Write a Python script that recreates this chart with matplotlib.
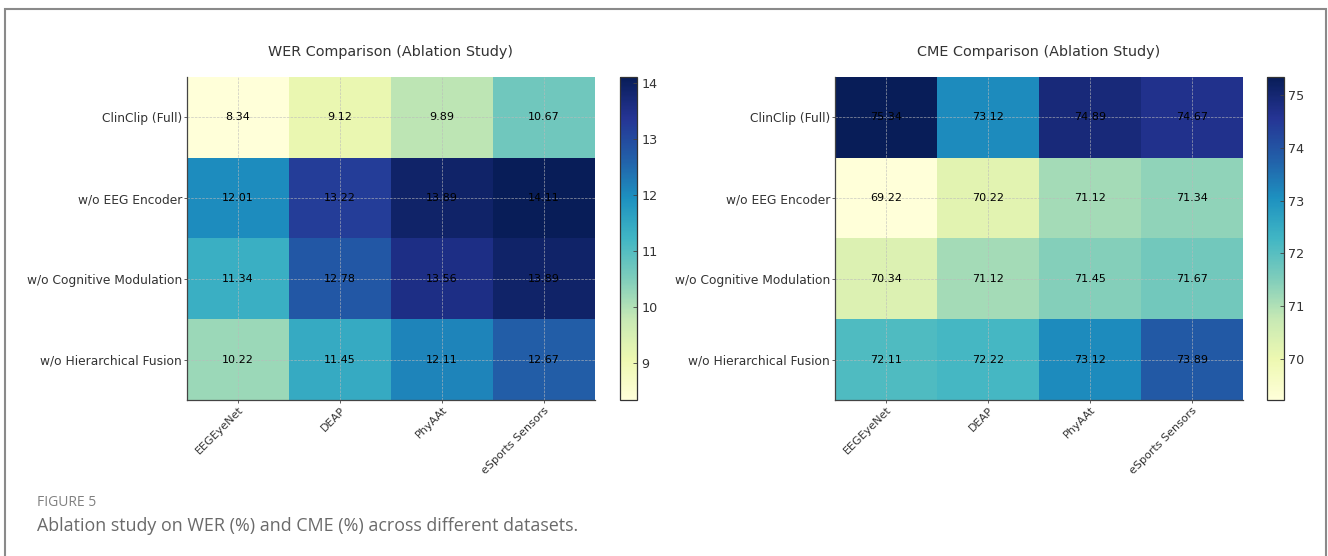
import matplotlib
matplotlib.use('Agg')
import matplotlib.pyplot as plt
import numpy as np
from matplotlib.patches import Rectangle

# data
variants = ["ClinClip (Full)", "w/o EEG Encoder", "w/o Cognitive Modulation", "w/o Hierarchical Fusion"]
datasets = ["EEGEyeNet", "DEAP", "PhyAAt", "eSports Sensors"]

wer = [
    [8.34, 9.12, 9.89, 10.67],
    [12.01, 13.22, 13.89, 14.11],
    [11.34, 12.78, 13.56, 13.89],
    [10.22, 11.45, 12.11, 12.67],
]
cme = [
    [75.34, 73.12, 74.89, 74.67],
    [69.22, 70.22, 71.12, 71.34],
    [70.34, 71.12, 71.45, 71.67],
    [72.11, 72.22, 73.12, 73.89],
]

W, H = 1328, 556
fig = plt.figure(figsize=(W / 100, H / 100), dpi=100)


def px(x0, y0, x1, y1):
    return [x0 / W, 1 - y1 / H, (x1 - x0) / W, (y1 - y0) / H]


def draw(ax_box, cb_box, data, title):
    ax = fig.add_axes(px(*ax_box))
    cax = fig.add_axes(px(*cb_box))
    arr = np.array(data)
    im = ax.imshow(arr, cmap="YlGnBu", aspect="auto", interpolation="nearest")
    ax.set_xticks(range(len(datasets)))
    ax.set_yticks(range(len(variants)))
    ax.set_xticklabels(datasets, rotation=45, ha="right", rotation_mode="anchor",
                       fontsize=8, color="#333333")
    ax.set_yticklabels(variants, fontsize=8.8, color="#333333")
    ax.tick_params(length=2.5, width=0.6, color="#444444", pad=1)
    ax.grid(True, linestyle="--", linewidth=0.5, color="#bbbbbb", alpha=0.8)
    for s in ax.spines.values():
        s.set_color("#444444")
        s.set_linewidth(0.9)
    ax.spines["top"].set_visible(False)
    ax.spines["right"].set_visible(False)
    for i in range(arr.shape[0]):
        for j in range(arr.shape[1]):
            ax.text(j, i, f"{arr[i, j]:.2f}", ha="center", va="center",
                    fontsize=8, color="black")
    ax.set_title(title, fontsize=10.4, color="#333333", pad=15)
    cb = fig.colorbar(im, cax=cax)
    cb.ax.tick_params(direction="in", length=3, width=0.6, labelsize=9.2,
                      labelcolor="#333333", color="#444444", pad=3)
    cb.outline.set_edgecolor("#333333")
    cb.outline.set_linewidth(0.9)


draw((187, 77, 595, 400), (620, 77, 637, 400), wer, "WER Comparison (Ablation Study)")
draw((835, 77, 1243, 400), (1267, 77, 1284, 400), cme, "CME Comparison (Ablation Study)")

# outer frame
fig.patches.append(Rectangle((5 / W, -0.05), (1321 / W), 1 - 9 / H + 0.05,
                             transform=fig.transFigure, fill=False,
                             edgecolor="#8a8a8a", linewidth=1.5))

fig.text(37 / W, 1 - 503 / H, "FIGURE 5", fontsize=10, color="#808080",
         family=["Open Sans", "DejaVu Sans"], va="center")
fig.text(37 / W, 1 - 526 / H, "Ablation study on WER (%) and CME (%) across different datasets.",
         fontsize=12.9, color="#6a6a6a", family=["Open Sans", "DejaVu Sans"], va="center")

fig.savefig("out.png", dpi=100)
